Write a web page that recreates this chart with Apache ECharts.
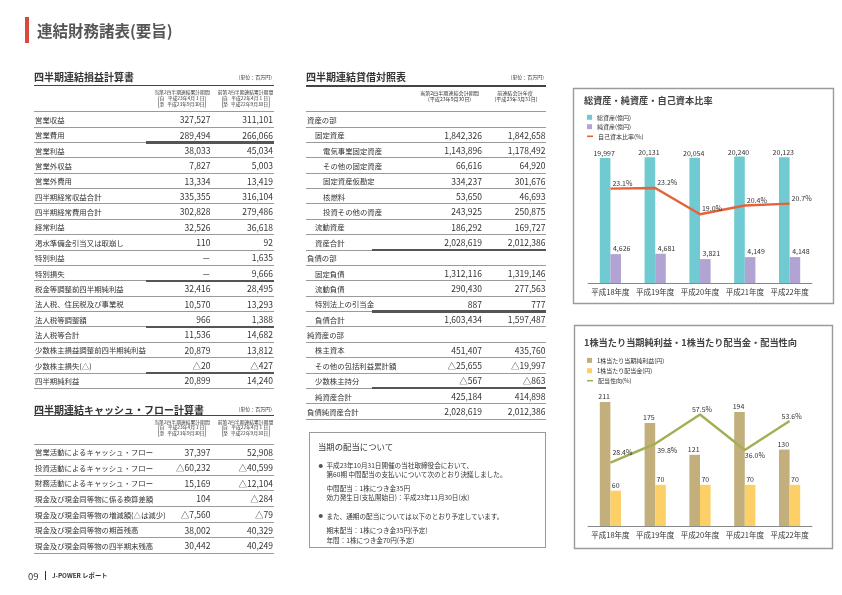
<!DOCTYPE html>
<html><head><meta charset="utf-8">
<script src="https://cdn.jsdelivr.net/npm/echarts@6/dist/echarts.min.js"></script>
<style>
html,body{margin:0;padding:0;background:#fff;}
#page{position:relative;width:842px;height:595px;overflow:hidden;font-family:"Noto Sans CJK JP","Noto Sans",sans-serif;color:#333;}
#chart{position:absolute;left:0;top:0;width:842px;height:595px;}
#overlay{position:absolute;left:0;top:0;width:842px;height:595px;pointer-events:none;}
.abs{position:absolute;white-space:nowrap;}
</style></head><body>
<div id="page"><div id="chart"></div><div id="overlay"></div></div>
<script>
// ---------- chart data ----------
const years = ['平成18年度','平成19年度','平成20年度','平成21年度','平成22年度'];
const totalAssets = [19997, 20131, 20054, 20240, 20123];
const netAssets = [4626, 4681, 3821, 4149, 4148];
const equityRatio = [23.1, 23.2, 19.0, 20.4, 20.7];
const eps = [211, 175, 121, 194, 130];
const dps = [60, 70, 70, 70, 70];
const payoutRatio = [28.4, 39.8, 57.5, 36.0, 53.6];

// ---------- table data ----------
const plLabels = ['営業収益','営業費用','営業利益','営業外収益','営業外費用','四半期経常収益合計','四半期経常費用合計','経常利益','渇水準備金引当又は取崩し','特別利益','特別損失','税金等調整前四半期純利益','法人税、住民税及び事業税','法人税等調整額','法人税等合計','少数株主損益調整前四半期純利益','少数株主損失(△)','四半期純利益'];
const plCurrent = ['327,527','289,494','38,033','7,827','13,334','335,355','302,828','32,526','110','－','－','32,416','10,570','966','11,536','20,879','△20','20,899'];
const plPrior = ['311,101','266,066','45,034','5,003','13,419','316,104','279,486','36,618','92','1,635','9,666','28,495','13,293','1,388','14,682','13,812','△427','14,240'];

const bsLabels = ['資産の部','固定資産','電気事業固定資産','その他の固定資産','固定資産仮勘定','核燃料','投資その他の資産','流動資産','資産合計','負債の部','固定負債','流動負債','特別法上の引当金','負債合計','純資産の部','株主資本','その他の包括利益累計額','少数株主持分','純資産合計','負債純資産合計'];
const bsLevel = [0,1,2,2,2,2,2,1,1,0,1,1,1,1,0,1,1,1,1,0];
const bsCurrent = ['','1,842,326','1,143,896','66,616','334,237','53,650','243,925','186,292','2,028,619','','1,312,116','290,430','887','1,603,434','','451,407','△25,655','△567','425,184','2,028,619'];
const bsPrior = ['','1,842,658','1,178,492','64,920','301,676','46,693','250,875','169,727','2,012,386','','1,319,146','277,563','777','1,597,487','','435,760','△19,997','△863','414,898','2,012,386'];

const cfLabels = ['営業活動によるキャッシュ・フロー','投資活動によるキャッシュ・フロー','財務活動によるキャッシュ・フロー','現金及び現金同等物に係る換算差額','現金及び現金同等物の増減額(△は減少)','現金及び現金同等物の期首残高','現金及び現金同等物の四半期末残高'];
const cfCurrent = ['37,397','△60,232','15,169','104','△7,560','38,002','30,442'];
const cfPrior = ['52,908','△40,599','△12,104','△284','△79','40,329','40,249'];

const dividendLines = [
  ['●','平成23年10月31日開催の当社取締役会において、'],
  ['','第60期 中間配当の支払いについて次のとおり決議しました。'],
  ['','中間配当：1株につき金35円'],
  ['','効力発生日(支払開始日)：平成23年11月30日(水)'],
  ['●','また、通期の配当については以下のとおり予定しています。'],
  ['','期末配当：1株につき金35円(予定)'],
  ['','年間：1株につき金70円(予定)']
];

// ---------- html helpers ----------
const ov = document.getElementById('overlay');
function el(css, html){ const d=document.createElement('div'); d.className='abs'; Object.assign(d.style, css); if(html!=null) d.innerHTML=html; ov.appendChild(d); return d; }
function txt(x, yc, s, size, extra){ const lh=size*1.3; return el(Object.assign({left:x+'px', top:(yc-lh/2)+'px', fontSize:size+'px', lineHeight:lh+'px'}, extra||{}), s); }
function txtR(xr, yc, s, size, extra){ const lh=size*1.3; return el(Object.assign({right:(842-xr)+'px', top:(yc-lh/2)+'px', fontSize:size+'px', lineHeight:lh+'px', textAlign:'right'}, extra||{}), s); }
function txtC(cx, yc, s, size, extra){ const lh=size*1.3; return el(Object.assign({left:cx+'px', top:(yc-lh/2)+'px', fontSize:size+'px', lineHeight:lh+'px', transform:'translateX(-50%)'}, extra||{}), s); }
function hline(x1, x2, y, h, color){ el({left:x1+'px', top:(y-h/2)+'px', width:(x2-x1)+'px', height:h+'px', background:color}); }

function periodHeader(cx, y1, title, d1, d2){
  txtC(cx, y1, title, 4.8, {color:'#333'});
  const b = el({left:cx+'px', top:(y1+2.6)+'px', transform:'translateX(-50%)', display:'flex', alignItems:'center', fontSize:'4.8px', lineHeight:'6px', color:'#333'});
  b.innerHTML = '<span style="font-size:12px;line-height:12px;display:inline-block;transform:scaleX(0.5);margin-right:-1px">(</span>'+
    '<span style="margin-right:3px">自<br>至</span><span style="text-align:right">'+d1+'<br>'+d2+'</span>'+
    '<span style="font-size:12px;line-height:12px;display:inline-block;transform:scaleX(0.5);margin-left:-1px">)</span>';
}

function drawRows(cfg){
  cfg.labels.forEach((lab,i)=>{
    const y0 = cfg.rowTop + i*cfg.rowH, yc = y0 + cfg.rowH/2 + 0.3, yb = y0 + cfg.rowH;
    const ind = cfg.level ? cfg.level[i]*8 : 0;
    txt(cfg.left+1+ind, yc, lab, 7.4, {color:'#333'});
    if(cfg.c1[i]) txtR(cfg.r1, yc, cfg.c1[i], 8.5, {color:'#333'});
    if(cfg.c2[i]) txtR(cfg.r2, yc, cfg.c2[i], 8.5, {color:'#333'});
    hline(cfg.left, cfg.right, yb, 0.9, '#9a9a9a');
    if(cfg.thick.indexOf(i) >= 0) hline(cfg.thickLeft, cfg.right, yb, 2.2, '#555');
  });
}

// page header
el({left:'25px', top:'17px', width:'4px', height:'26px', background:'#D9483B'});
txt(37, 30.5, '連結財務諸表(要旨)', 15.5, {fontWeight:'bold', color:'#555'});

// P/L table
txt(34, 76.5, '四半期連結損益計算書', 10, {fontWeight:'bold', color:'#333'});
txtR(272, 77, '(単位：百万円)', 5, {color:'#333'});
hline(34, 274, 85.7, 1.2, '#444');
periodHeader(182, 92.3, '当第2四半期連結累計期間', '平成23年4月 1 日', '平成23年9月30日');
periodHeader(245.5, 92.3, '前第2四半期連結累計期間', '平成22年4月 1 日', '平成22年9月30日');
hline(34, 274, 111.7, 0.9, '#9a9a9a');
drawRows({labels:plLabels, c1:plCurrent, c2:plPrior, left:34, right:274, r1:210.5, r2:273, rowTop:111.7, rowH:15.37, thick:[1,10,13,16], thickLeft:146});

// B/S table
txt(306, 76.5, '四半期連結貸借対照表', 10, {fontWeight:'bold', color:'#333'});
txtR(544, 77, '(単位：百万円)', 5, {color:'#333'});
hline(306, 546, 86, 1.2, '#444');
txtC(449.5, 93.3, '当第2四半期連結会計期間', 5.1, {color:'#333'});
txtC(449.5, 99.6, '(平成23年9月30日)', 5.1, {color:'#333'});
txtC(515, 93.3, '前連結会計年度', 5.1, {color:'#333'});
txtC(516, 99.6, '(平成23年3月31日)', 5.1, {color:'#333'});
hline(306, 546, 111.7, 0.9, '#9a9a9a');
drawRows({labels:bsLabels, level:bsLevel, c1:bsCurrent, c2:bsPrior, left:306, right:546, r1:482, r2:545.5, rowTop:111.7, rowH:15.37, thick:[8,12,17], thickLeft:372});

// C/F table
txt(34, 409, '四半期連結キャッシュ・フロー計算書', 10, {fontWeight:'bold', color:'#333'});
txtR(272, 409.5, '(単位：百万円)', 5, {color:'#333'});
hline(34, 274, 415.5, 1.2, '#444');
periodHeader(182, 421.7, '当第2四半期連結累計期間', '平成23年4月 1 日', '平成23年9月30日');
periodHeader(245.5, 421.7, '前第2四半期連結累計期間', '平成22年4月 1 日', '平成22年9月30日');
hline(34, 274, 444, 0.9, '#9a9a9a');
drawRows({labels:cfLabels, c1:cfCurrent, c2:cfPrior, left:34, right:274, r1:210.5, r2:273, rowTop:444, rowH:15.6, thick:[], thickLeft:146});

// dividend box
el({left:'309px', top:'432px', width:'237px', height:'116px', border:'1.2px solid #9a9a9a', boxSizing:'border-box'});
txt(318, 446, '当期の配当について', 8.4, {color:'#333'});
const divY = [465.5, 474.5, 488, 497.5, 516, 530.5, 540];
dividendLines.forEach((ln,i)=>{
  if(ln[0]) txt(318.5, divY[i], ln[0], 4.5, {color:'#555'});
  txt(326.5, divY[i], ln[1], 6.6, {color:'#333'});
});

// footer
txt(28, 576, '09', 9.5, {color:'#333'});
el({left:'44.5px', top:'571px', width:'0.9px', height:'9px', background:'#333'});
txt(52, 576.5, 'J-POWER レポート', 6.3, {fontWeight:'bold', color:'#333'});

// ---------- ECharts ----------
const FONT = '"Noto Sans CJK JP", "Noto Sans", sans-serif';
const chart = echarts.init(document.getElementById('chart'), null, {renderer:'canvas', width:842, height:595});
const lblStyle = {fontSize:7, color:'#333', fontFamily:FONT};
function legendItem(name, top, line){
  return {data:[name], left:587, top:top, padding:0, orient:'vertical', selectedMode:false,
    itemWidth: line ? 6 : 5, itemHeight: line ? 1.6 : 5, icon:'rect',
    textStyle:{fontSize:6, color:'#333', fontFamily:FONT}};
}
const payoutOffsets = [[12,-2],[12,15],[2,3.5],[10,14],[2,3.5]];
const xAxisBase = {type:'category', data:years, axisTick:{show:false},
  axisLine:{lineStyle:{color:'#888', width:1}},
  axisLabel:{fontSize:7.5, color:'#333', margin:5, interval:0, fontFamily:FONT}};
const hiddenY = {show:false, splitLine:{show:false}};
const option = {
  animation:false,
  textStyle:{fontFamily:FONT},
  title:[
    {text:'総資産・純資産・自己資本比率', left:584, top:96, padding:0, textStyle:{fontSize:9.2, fontWeight:'bold', color:'#444', fontFamily:FONT}},
    {text:'1株当たり当期純利益・1株当たり配当金・配当性向', left:584, top:337.5, padding:0, textStyle:{fontSize:9.2, fontWeight:'bold', color:'#444', fontFamily:FONT}}
  ],
  legend:[
    legendItem('総資産(億円)', 114.3),
    legendItem('純資産(億円)', 123.7),
    legendItem('自己資本比率(%)', 133.3, true),
    legendItem('1株当たり当期純利益(円)', 357.4),
    legendItem('1株当たり配当金(円)', 367.7),
    legendItem('配当性向(%)', 377.7, true)
  ],
  grid:[{left:588, width:224, top:133, height:150}, {left:588, width:224, top:379, height:147}],
  xAxis:[Object.assign({gridIndex:0}, xAxisBase), Object.assign({gridIndex:1}, xAxisBase)],
  yAxis:[
    Object.assign({gridIndex:0, min:0, max:24000}, hiddenY),
    Object.assign({gridIndex:0, min:8, max:32}, hiddenY),
    Object.assign({gridIndex:1, min:0, max:250}, hiddenY),
    Object.assign({gridIndex:1, min:-10, max:79}, hiddenY)
  ],
  series:[
    {name:'総資産(億円)', type:'bar', xAxisIndex:0, yAxisIndex:0, data:totalAssets, barWidth:10.6, barGap:'0%',
      itemStyle:{color:'#6FCBD1'},
      label:{show:true, position:'top', distance:1, offset:[-1,0], formatter:p=>p.value.toLocaleString('en-US'), ...lblStyle}},
    {name:'純資産(億円)', type:'bar', xAxisIndex:0, yAxisIndex:0, data:netAssets, barWidth:10.6, barGap:'0%',
      itemStyle:{color:'#B2A4D2'},
      label:{show:true, position:'top', distance:2, offset:[6,0], formatter:p=>p.value.toLocaleString('en-US'), ...lblStyle}},
    {name:'自己資本比率(%)', type:'line', xAxisIndex:0, yAxisIndex:1, data:equityRatio,
      symbol:'circle', symbolSize:0.01, showSymbol:true,
      lineStyle:{color:'#E5633A', width:2.5}, itemStyle:{color:'#E5633A'}, z:5,
      label:{show:true, position:'top', offset:[12,3], formatter:p=>Number(p.value).toFixed(1)+'%', ...lblStyle}},
    {name:'1株当たり当期純利益(円)', type:'bar', xAxisIndex:1, yAxisIndex:2, data:eps, barWidth:10.6, barGap:'0%',
      itemStyle:{color:'#C3AF7C'},
      label:{show:true, position:'top', distance:2, offset:[-1,0], ...lblStyle}},
    {name:'1株当たり配当金(円)', type:'bar', xAxisIndex:1, yAxisIndex:2, data:dps, barWidth:10.6, barGap:'0%',
      itemStyle:{color:'#FCD067'},
      label:{show:true, position:'top', distance:2, offset:[0,0], ...lblStyle}},
    {name:'配当性向(%)', type:'line', xAxisIndex:1, yAxisIndex:3,
      symbol:'circle', symbolSize:0.01, showSymbol:true,
      data:payoutRatio.map((v,i)=>({value:v, label:{offset:payoutOffsets[i]}})),
      lineStyle:{color:'#A6AE57', width:2.5}, itemStyle:{color:'#A6AE57'}, z:5,
      label:{show:true, position:'top', formatter:p=>Number(p.value).toFixed(1)+'%', ...lblStyle}}
  ],
  graphic:[
    {type:'rect', shape:{x:573.5, y:88.5, width:260, height:215}, style:{fill:'none', stroke:'#9a9a9a', lineWidth:1.4}, silent:true},
    {type:'rect', shape:{x:574.5, y:325.5, width:258, height:223}, style:{fill:'none', stroke:'#9a9a9a', lineWidth:1.4}, silent:true}
  ]
};
chart.setOption(option);
</script>
</body></html>
